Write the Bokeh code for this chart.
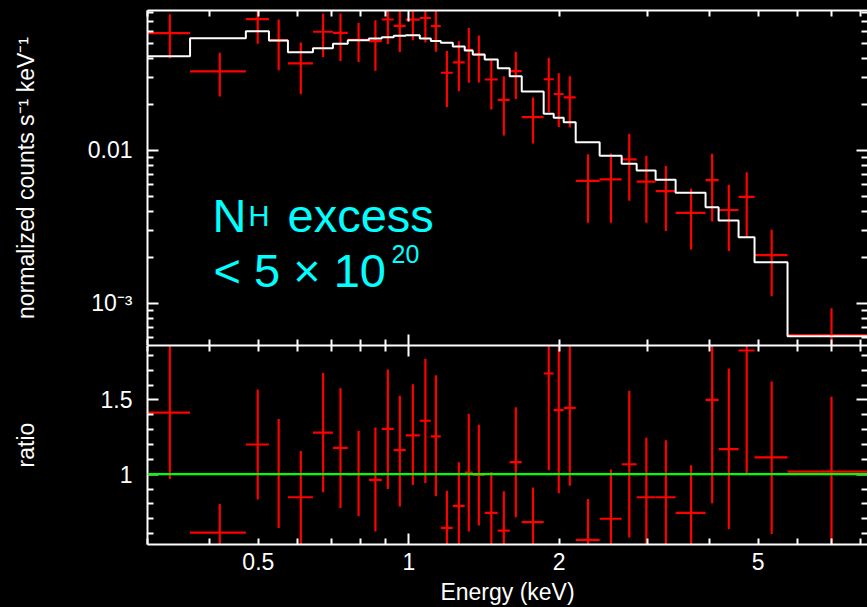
import numpy as np
from bokeh.plotting import figure
from bokeh.layouts import column
from bokeh.models import (LogAxis, LinearAxis, FixedTicker, CustomJSTickFormatter,
                          Span, Label, ColumnDataSource)
from bokeh.embed import file_html
from bokeh.resources import INLINE

# ---------------- data ----------------
energy_edges = [0.300, 0.365, 0.472, 0.525, 0.573, 0.643, 0.705, 0.755, 0.832, 0.883,
                0.933, 0.986, 1.052, 1.107, 1.159, 1.225, 1.294, 1.343, 1.419, 1.507,
                1.592, 1.683, 1.862, 1.950, 2.042, 2.158, 2.410, 2.667, 2.858, 3.119,
                3.420, 3.926, 4.169, 4.571, 4.920, 5.728, 8.300]

model_counts = [0.0413, 0.0542, 0.0602, 0.0524, 0.0439, 0.0466, 0.0498, 0.0526, 0.0540, 0.0550,
                0.0562, 0.0567, 0.0540, 0.0519, 0.0506, 0.0478, 0.0450, 0.0424, 0.0393, 0.0345,
                0.0305, 0.0243, 0.01738, 0.01636, 0.01531, 0.01133, 0.00925, 0.00819, 0.00740, 0.00643,
                0.00529, 0.00426, 0.00349, 0.00271, 0.001862, 0.000611]

data_counts = [0.0585, 0.0329, 0.0722, 0.0525, 0.0371, 0.0597, 0.0587, 0.0528, 0.0519, 0.0718,
               0.0653, 0.0716, 0.0734, 0.0651, 0.0322, 0.0376, 0.0455, 0.0422, 0.0291, 0.0214,
               0.0330, 0.0165, 0.0292, 0.0234, 0.0222, 0.00632, 0.00648, 0.00874, 0.00625, 0.00543,
               0.00391, 0.00639, 0.00408, 0.00497, 0.00207, 0.000622]

data_counts_lo = [0.0400, 0.0225, 0.0499, 0.0334, 0.0233, 0.0409, 0.0385, 0.0378, 0.0332, 0.0495,
                  0.0440, 0.0526, 0.0508, 0.0442, 0.0192, 0.0244, 0.0277, 0.0278, 0.0185, 0.01253,
                  0.0217, 0.0111, 0.0178, 0.01425, 0.01411, 0.00337, 0.00337, 0.00469, 0.00337, 0.00297,
                  0.00225, 0.00343, 0.00220, 0.00273, 0.001114, 0.000300]

data_counts_hi = [0.0777, 0.0435, 0.0946, 0.0718, 0.0508, 0.0784, 0.0786, 0.0680, 0.0710, 0.0938,
                  0.0859, 0.0910, 0.0960, 0.0865, 0.0446, 0.0518, 0.0632, 0.0565, 0.0399, 0.0305,
                  0.0442, 0.0222, 0.0404, 0.0320, 0.0305, 0.00944, 0.00954, 0.01279, 0.00921, 0.00790,
                  0.00561, 0.00952, 0.00597, 0.00721, 0.00303, 0.000930]

ratio = [1.415, 0.607, 1.200, 1.000, 0.845, 1.280, 1.178, 1.000, 0.962, 1.305,
         1.162, 1.262, 1.360, 1.255, 0.638, 0.787, 1.011, 0.995, 0.740, 0.620,
         1.082, 0.678, 1.678, 1.431, 1.447, 0.558, 0.700, 1.067, 0.845, 0.845,
         0.740, 1.500, 1.169, 1.833, 1.113, 1.018]

ratio_lo = [0.967, 0.416, 0.829, 0.638, 0.530, 0.878, 0.773, 0.718, 0.615, 0.900,
            0.782, 0.927, 0.940, 0.851, 0.380, 0.510, 0.615, 0.655, 0.472, 0.363,
            0.711, 0.455, 1.027, 0.871, 0.922, 0.297, 0.364, 0.573, 0.455, 0.462,
            0.426, 0.805, 0.629, 1.007, 0.598, 0.490]

ratio_hi = [1.880, 0.800, 1.571, 1.371, 1.157, 1.682, 1.578, 1.293, 1.315, 1.705,
            1.529, 1.605, 1.778, 1.667, 0.889, 1.080, 1.405, 1.333, 1.015, 0.885,
            1.451, 0.911, 2.320, 1.956, 1.990, 0.833, 1.031, 1.562, 1.245, 1.229,
            1.060, 2.235, 1.711, 2.660, 1.625, 1.522]

ratio_reference = 1.0

x_major_ticks = [1.0]
x_minor_ticks = [0.3, 0.4, 0.5, 0.6, 0.7, 0.8, 0.9, 2, 3, 4, 5, 6, 7, 8]
x_label_ticks = [0.5, 1, 2, 5]
y_top_major = [0.001, 0.01]
y_top_minor = [0.0006, 0.0007, 0.0008, 0.0009, 0.002, 0.003, 0.004, 0.005, 0.006,
               0.007, 0.008, 0.009, 0.02, 0.03, 0.04, 0.05, 0.06, 0.07, 0.08]
ratio_major = [1.0, 1.5]
ratio_minor = [0.6, 0.7, 0.8, 0.9, 1.1, 1.2, 1.3, 1.4, 1.6, 1.7, 1.8]

# ---------------- derived geometry ----------------
edges = np.array(energy_edges)
e_lo, e_hi = edges[:-1], edges[1:]
e_mid = (e_lo + e_hi) / 2.0
src = ColumnDataSource(dict(e_lo=e_lo, e_hi=e_hi, e_mid=e_mid,
                            c=data_counts, clo=data_counts_lo, chi=data_counts_hi,
                            r=ratio, rlo=ratio_lo, rhi=ratio_hi))
step_x = np.column_stack([e_lo, e_hi]).ravel()
step_y = np.repeat(np.array(model_counts), 2)

FONT = "Liberation Sans"
FS = "23px"
RED = "#ff0000"
X_RANGE = (0.3, 8.28)


def tick_axis(cls, ticks, minor, major_len=11, minor_len=6, line=True):
    return cls(ticker=FixedTicker(ticks=ticks, minor_ticks=minor),
               formatter=CustomJSTickFormatter(code="return ''"),
               major_label_text_font_size="0px", major_label_standoff=0,
               major_tick_in=major_len, major_tick_out=0,
               minor_tick_in=minor_len, minor_tick_out=0,
               major_tick_line_color="white", minor_tick_line_color="white",
               major_tick_line_width=2, minor_tick_line_width=2,
               axis_line_color="white" if line else None, axis_line_width=2)


def base_fig(height, y_type, y_range, border_top, border_bottom):
    p = figure(width=867, height=height, x_axis_type="log", y_axis_type=y_type,
               x_range=X_RANGE, y_range=y_range,
               x_axis_location=None, y_axis_location=None,
               toolbar_location=None, output_backend="svg",
               background_fill_color="black", border_fill_color="black",
               outline_line_color=None,
               min_border_left=147, min_border_right=0,
               min_border_top=border_top, min_border_bottom=border_bottom,
               styles={"background-color": "black"})
    p.grid.visible = False
    return p


# ---------------- top panel ----------------
top = base_fig(345, "log", (5.31e-4, 0.0822), 10, 0)

ly = LogAxis(ticker=FixedTicker(ticks=y_top_major, minor_ticks=y_top_minor),
             formatter=CustomJSTickFormatter(code="return tick < 0.005 ? '10\u207b\u00b3' : '0.01';"),
             major_tick_in=11, major_tick_out=0, minor_tick_in=6, minor_tick_out=0,
             major_tick_line_color="white", minor_tick_line_color="white",
             major_tick_line_width=2, minor_tick_line_width=2,
             axis_line_color="white", axis_line_width=2,
             major_label_text_color="white", major_label_text_font=FONT,
             major_label_text_font_size=FS, major_label_standoff=15,
             axis_label="normalized counts s\u207b\u00b9 keV\u207b\u00b9",
             axis_label_text_color="white", axis_label_text_font=FONT,
             axis_label_text_font_size=FS, axis_label_text_font_style="normal",
             axis_label_standoff=46)
top.add_layout(ly, "left")
top.add_layout(tick_axis(LogAxis, y_top_major, y_top_minor, line=False), "right")
top.add_layout(tick_axis(LogAxis, x_major_ticks, x_minor_ticks), "above")
top.add_layout(tick_axis(LogAxis, x_major_ticks, x_minor_ticks), "below")

top.segment(x0="e_mid", y0="clo", x1="e_mid", y1="chi", source=src,
            line_color=RED, line_width=2.2)
top.segment(x0="e_lo", y0="c", x1="e_hi", y1="c", source=src,
            line_color=RED, line_width=2.2)
top.line(step_x, step_y, line_color="white", line_width=2)

CYAN = "#00ffff"
for txt, x, y, size in [("N", 65, 130, "47px"), ("H", 101, 130, "29px"),
                        ("excess", 140, 130, "47px"),
                        ("< 5 \u00d7 10", 66, 75, "47px"), ("20", 244, 92, "25px")]:
    top.add_layout(Label(x=x, y=y, x_units="screen", y_units="screen", text=txt,
                         text_color=CYAN, text_font=FONT, text_font_size=size,
                         text_baseline="alphabetic"))

# ---------------- ratio panel ----------------
bot = base_fig(262, "linear", (0.5267, 1.8667), 0, 61)

ry = LinearAxis(ticker=FixedTicker(ticks=ratio_major, minor_ticks=ratio_minor),
                formatter=CustomJSTickFormatter(code="return tick.toString();"),
                major_tick_in=11, major_tick_out=0, minor_tick_in=6, minor_tick_out=0,
                major_tick_line_color="white", minor_tick_line_color="white",
                major_tick_line_width=2, minor_tick_line_width=2,
                axis_line_color="white", axis_line_width=2,
                major_label_text_color="white", major_label_text_font=FONT,
                major_label_text_font_size=FS, major_label_standoff=15,
                axis_label="ratio",
                axis_label_text_color="white", axis_label_text_font=FONT,
                axis_label_text_font_size=FS, axis_label_text_font_style="normal",
                axis_label_standoff=59)
bot.add_layout(ry, "left")
bot.add_layout(tick_axis(LinearAxis, ratio_major, ratio_minor, line=False), "right")
bot.add_layout(tick_axis(LogAxis, x_major_ticks, x_minor_ticks), "above")
bot.add_layout(tick_axis(LogAxis, x_major_ticks, x_minor_ticks), "below")
lx = LogAxis(ticker=FixedTicker(ticks=x_label_ticks, minor_ticks=[]),
             formatter=CustomJSTickFormatter(code="return tick.toString();"),
             major_tick_in=0, major_tick_out=0, minor_tick_in=0, minor_tick_out=0,
             major_tick_line_color=None, minor_tick_line_color=None,
             axis_line_color=None,
             major_label_text_color="white", major_label_text_font=FONT,
             major_label_text_font_size=FS, major_label_standoff=8,
             axis_label="Energy (keV)",
             axis_label_text_color="white", axis_label_text_font=FONT,
             axis_label_text_font_size=FS, axis_label_text_font_style="normal",
             axis_label_standoff=6)
bot.add_layout(lx, "below")

bot.segment(x0="e_mid", y0="rlo", x1="e_mid", y1="rhi", source=src,
            line_color=RED, line_width=2.2)
bot.segment(x0="e_lo", y0="r", x1="e_hi", y1="r", source=src,
            line_color=RED, line_width=2.2)
bot.add_layout(Span(location=ratio_reference, dimension="width",
                    line_color="#00ff00", line_width=2.2))

layout = column(top, bot, spacing=0, styles={"background-color": "black"})
with open("out.html", "w", encoding="utf-8") as f:
    f.write(file_html(layout, INLINE))
